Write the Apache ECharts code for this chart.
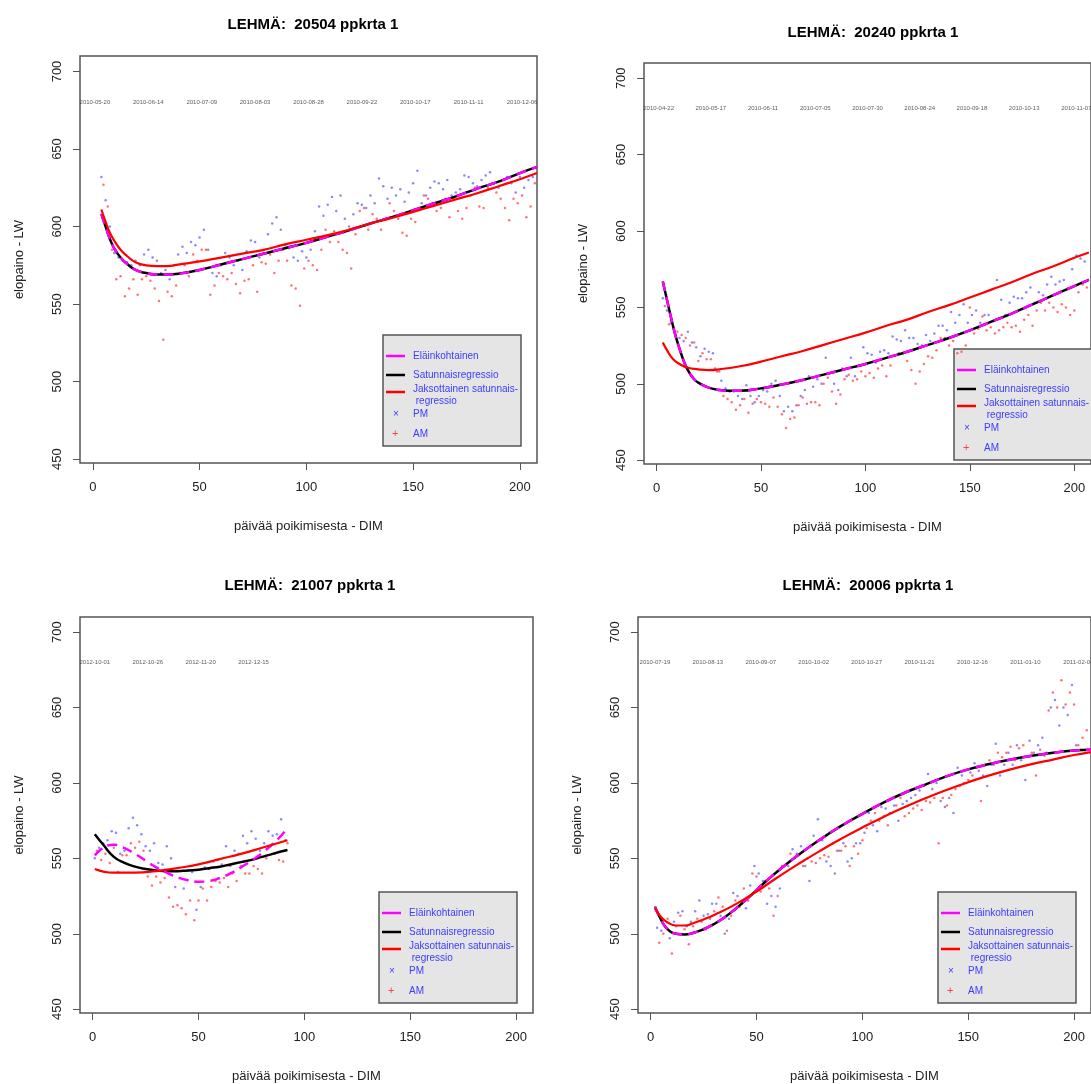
<!DOCTYPE html>
<html>
<head>
<meta charset="utf-8">
<script src="https://cdn.jsdelivr.net/npm/echarts@6/dist/echarts.min.js"></script>
<style>
  html, body { margin: 0; padding: 0; background: #fff; }
  #chart { width: 1091px; height: 1084px; }
</style>
</head>
<body>
<div id="chart"></div>
<script>
// --- data ---
const titles = ['LEHMÄ:  20504 ppkrta 1', 'LEHMÄ:  20240 ppkrta 1', 'LEHMÄ:  21007 ppkrta 1', 'LEHMÄ:  20006 ppkrta 1']
const xTicks = [0, 50, 100, 150, 200]
const yTicks = [450, 500, 550, 600, 650, 700]

const dates1 = ['2010-05-20', '2010-06-14', '2010-07-09', '2010-08-03', '2010-08-28', '2010-09-22', '2010-10-17', '2010-11-11', '2010-12-06']
const dates2 = ['2010-04-22', '2010-05-17', '2010-06-11', '2010-07-05', '2010-07-30', '2010-08-24', '2010-09-18', '2010-10-13', '2010-11-07']
const dates3 = ['2012-10-01', '2012-10-26', '2012-11-20', '2012-12-15']
const dates4 = ['2010-07-19', '2010-08-13', '2010-09-07', '2010-10-02', '2010-10-27', '2010-11-21', '2010-12-16', '2011-01-10', '2011-02-04']

// panel 1
const black1 = [[4,608],[6,600],[8,592],[10,586],[13,580],[16,576],[20,572],[25,570],[30,569],[35,569],[40,569.5],[50,572],[60,575.5],[70,579],[80,582.5],[90,586],[100,589.5],[110,593.5],[120,597.5],[130,602],[140,606],[150,610.5],[160,615],[170,619.5],[180,624.5],[190,629],[200,634.5],[208,638.5]]
const magenta1 = black1
const red1 = [[4,611],[6,603],[8,596],[10,591],[13,585],[16,581],[20,577],[25,575],[30,574.5],[35,574.5],[40,575.5],[50,577.5],[60,580],[70,582.5],[80,585],[90,588.5],[100,591.5],[110,594.5],[120,598],[130,602],[140,605.5],[150,609.5],[160,613.5],[170,617.5],[180,621.5],[190,626],[200,630.5],[208,634.5]]
const pm1Start = 4
const pm1 = [632,617,600,583,580,578,577,575,578,575,582,585,580,578,570,572,566,575,582,587,583,590,588,593,598,585,570,568,575,583,580,575,578,572,584,591,590,580,583,595,602,606,598,588,586,580,578,584,580,585,597,613,607,614,619,610,620,605,600,608,615,614,612,620,615,631,626,618,625,620,624,616,622,628,636,615,620,625,629,628,624,630,620,622,624,633,632,628,626,630,633,635,628,625,630,632,628,622,632,625,630,632]
const am1Start = 5
const am1 = [627,613,585,566,568,555,560,566,556,566,568,565,560,552,527,558,555,562,570,575,568,582,578,585,585,556,562,570,568,566,570,563,557,565,566,575,558,577,576,582,570,578,585,578,562,560,549,573,578,575,572,585,598,590,597,590,585,583,573,595,610,612,598,608,605,598,605,615,610,605,596,594,605,603,612,620,618,615,610,612,618,606,618,610,605,612,620,625,613,612,625,628,622,618,612,604,618,615,620,606,613,628]

// panel 2
const black2 = [[3,567],[5,555],[7,543],[9,532],[11,523],[13,515],[15,509],[18,503],[21,500],[25,497.5],[30,496],[35,495.5],[40,495.5],[50,497],[60,499.5],[70,502.5],[80,506],[90,509.5],[100,513],[110,517],[120,521],[130,525.5],[140,530],[150,535],[160,540.5],[170,546],[180,552],[190,558],[200,564],[207,568]]
const magenta2 = black2
const red2 = [[3,527],[5,522],[8,516],[11,513],[15,510.5],[20,509.5],[25,509],[30,509.5],[40,511.5],[50,514.5],[60,518],[70,521.5],[80,525.5],[90,529.5],[100,533.5],[110,538],[120,542],[130,547],[140,551.5],[150,556.5],[160,561.5],[170,566.5],[180,572],[190,577],[200,582.5],[207,586]]
const pm2Start = 3
const pm2 = [556,548,540,532,530,528,534,527,524,518,523,521,520,508,502,497,495,495,492,490,499,492,488,492,496,495,500,502,492,482,485,482,486,492,496,505,498,503,500,517,507,500,496,510,505,517,505,512,524,520,519,514,521,522,520,531,529,528,535,530,530,526,525,532,528,533,538,538,535,547,540,545,552,540,545,548,540,545,545,562,568,555,545,553,557,556,556,560,563,553,560,558,565,570,565,567,568,562,575,584,582,580]
const am2Start = 4
const am2 = [551,539,537,534,532,530,525,527,515,520,516,516,510,508,492,490,488,483,486,490,481,487,490,488,487,485,491,485,480,471,477,478,486,491,487,488,488,486,500,504,495,487,493,503,506,502,503,508,505,507,504,510,512,505,512,518,520,520,515,509,500,508,513,518,517,522,530,530,525,528,520,521,525,550,533,536,544,535,537,533,535,537,540,537,538,534,542,545,538,548,553,548,553,550,547,552,550,545,548,560,565,563]

// panel 3
const black3 = [[1,566],[5,559],[10,551],[15,547],[20,544.5],[25,543],[30,542],[35,541.5],[40,541.5],[45,542],[50,542.5],[55,543.5],[60,544.5],[65,546],[70,547.5],[75,549],[80,551],[85,553],[92,555.5]]
const magenta3 = [[1,552],[4,556],[7,558.5],[10,559],[14,557.5],[20,553],[25,548.5],[30,544],[35,540.5],[40,537.5],[45,535.5],[50,534.5],[55,535],[60,537],[65,540],[70,544],[75,548.5],[80,553.5],[85,559.5],[89,565],[92,570]]
const red3 = [[1,543],[10,540.5],[20,540.5],[30,541.5],[35,542.5],[40,543.5],[50,546],[60,549.5],[70,553],[80,557],[92,562]]
const pm3Start = 1
const pm3 = [550,557,560,562,568,567,553,555,570,577,572,566,558,555,560,547,546,558,550,531,537,530,542,541,516,531,544,543,548,549,546,558,545,555,553,565,560,568,563,555,560,568,565,566,576,562]
const am3Start = 2
const am3 = [555,549,553,547,557,541,552,552,560,557,561,555,538,532,538,534,537,524,518,519,517,513,522,509,522,530,522,531,535,534,537,531,540,535,545,540,540,545,543,540,550,558,553,549,548,560]

// panel 4
const black4 = [[2,518],[5,509],[8,503],[12,500],[16,499.5],[20,500.5],[25,503],[30,506.5],[35,511],[40,516.5],[45,522.5],[50,529],[55,535.5],[60,541.5],[70,552.5],[80,562.5],[90,571.5],[100,579.5],[110,587],[120,593.5],[130,599],[140,604.5],[150,609],[160,612.5],[170,615.5],[180,618],[190,620],[200,621.5],[208,622]]
const magenta4 = black4
const red4 = [[2,517],[5,511],[8,507.5],[12,505.5],[16,505.5],[20,507],[25,509.5],[30,512.5],[40,519.5],[50,528],[60,537.5],[70,546.5],[80,555],[90,563],[100,570.5],[110,577.5],[120,584],[130,590],[140,595.5],[150,600.5],[160,605],[170,609],[180,612.5],[190,615.5],[200,618.5],[208,620.5]]
const pm4Start = 3
const pm4 = [504,502,505,497,508,514,515,505,508,515,522,512,513,520,520,512,500,510,527,525,520,517,532,545,540,535,520,525,518,530,545,545,556,553,558,545,535,565,576,562,548,545,540,555,560,548,550,560,560,567,580,572,568,584,583,580,585,575,586,588,590,592,595,598,606,596,600,588,584,590,580,610,605,600,607,613,608,605,598,612,626,605,612,620,612,625,615,602,628,620,625,630,620,650,655,638,650,645,665,625,622,620]
const am4Start = 4
const am4 = [494,500,510,487,505,512,503,493,505,510,508,503,510,515,524,518,502,512,522,518,530,522,540,538,528,535,530,512,525,545,546,553,550,552,545,550,548,547,550,552,551,560,555,555,558,545,558,553,562,570,575,580,575,578,572,580,585,590,578,580,583,585,582,588,587,590,560,590,585,592,596,598,600,602,605,610,588,612,615,612,620,617,620,624,615,623,625,612,620,605,622,618,648,660,650,668,652,660,652,625,630,635]

// --- layout ---
const panels = [
    { grid: { left: 80, top: 56, width: 457, height: 407 }, title: [308, 12], dates: dates1, dateStart: 1, black: black1, magenta: magenta1, red: red1, pm: [pm1Start, pm1], am: [am1Start, am1], legend: [383, 335] },
    { grid: { left: 644, top: 63, width: 460, height: 401 }, title: [868, 20], dates: dates2, dateStart: 1, black: black2, magenta: magenta2, red: red2, pm: [pm2Start, pm2], am: [am2Start, am2], legend: [954, 349] },
    { grid: { left: 80, top: 617, width: 453, height: 401 }, title: [305, 573], dates: dates3, dateStart: 1, black: black3, magenta: magenta3, red: red3, pm: [pm3Start, pm3], am: [am3Start, am3], legend: [379, 892] },
    { grid: { left: 638, top: 617, width: 460, height: 401 }, title: [863, 573], dates: dates4, dateStart: 2, black: black4, magenta: magenta4, red: red4, pm: [pm4Start, pm4], am: [am4Start, am4], legend: [938, 892] }
]

const FONT = 'Liberation Sans, Arial, sans-serif'

function toPairs(start, vals) {
    return vals.map((v, i) => [start + 2 * i, v])
}

function buildLegend(x, y) {
    const blue = '#3c3cff'
    const items = [
        { type: 'rect', shape: { x: x, y: y, width: 138, height: 111 }, style: { fill: '#e5e5e5', stroke: '#555', lineWidth: 1.5 } }
    ]
    const lines = [['#ff00ff', 21], ['#000', 40], ['#ff0000', 57]]
    lines.forEach(([c, dy]) => {
        items.push({ type: 'line', shape: { x1: x + 3, y1: y + dy, x2: x + 22, y2: y + dy }, style: { stroke: c, lineWidth: 2.5 } })
    })
    const texts = [['Eläinkohtainen', 21], ['Satunnaisregressio', 40], ['Jaksottainen satunnais-', 54], [' regressio', 66], ['PM', 79], ['AM', 99]]
    texts.forEach(([t, dy]) => {
        items.push({ type: 'text', x: x + 30, y: y + dy, style: { text: t, fill: blue, font: '10px ' + FONT, textVerticalAlign: 'middle' } })
    })
    items.push({ type: 'text', x: x + 10, y: y + 79, style: { text: '×', fill: blue, font: '10px ' + FONT, textVerticalAlign: 'middle' } })
    items.push({ type: 'text', x: x + 9, y: y + 99, style: { text: '+', fill: '#ff4040', font: '11px ' + FONT, textVerticalAlign: 'middle' } })
    return items
}

const option = {
    animation: false,
    backgroundColor: '#fff',
    title: [],
    grid: [],
    xAxis: [],
    yAxis: [],
    series: [],
    graphic: []
}

panels.forEach((p, i) => {
    option.title.push({
        text: titles[i], left: p.title[0], top: p.title[1], textAlign: 'center',
        textStyle: { fontFamily: FONT, fontSize: 15, fontWeight: 'bold', color: '#000' }
    })
    option.grid.push(Object.assign({ show: true, borderColor: '#555', borderWidth: 1.5, backgroundColor: 'transparent' }, p.grid))
    option.xAxis.push({
        type: 'value', gridIndex: i, min: -6, max: 208,
        name: 'päivää poikimisesta - DIM', nameLocation: 'middle', nameGap: 57,
        nameTextStyle: { fontFamily: FONT, fontSize: 13, color: '#222' },
        axisLine: { show: false },
        axisTick: { show: true, inside: false, length: 7, customValues: xTicks, lineStyle: { color: '#555' } },
        axisLabel: { customValues: xTicks, fontFamily: FONT, fontSize: 13, color: '#222', margin: 18 },
        splitLine: { show: false }
    })
    option.yAxis.push({
        type: 'value', gridIndex: i, min: 447.5, max: 710, position: 'left',
        name: 'elopaino - LW', nameLocation: 'middle', nameGap: 54,
        nameTextStyle: { fontFamily: FONT, fontSize: 13, color: '#222' },
        axisLine: { show: false, onZero: false },
        axisTick: { show: true, inside: false, length: 7, customValues: yTicks, lineStyle: { color: '#555' } },
        axisLabel: { customValues: yTicks, rotate: 90, fontFamily: FONT, fontSize: 13, color: '#222', margin: 16 },
        splitLine: { show: false }
    })
    option.series.push({
        type: 'scatter', xAxisIndex: i, yAxisIndex: i, symbol: 'circle', symbolSize: 2.5,
        itemStyle: { color: '#6a6aff' }, data: toPairs(p.pm[0], p.pm[1]), z: 2
    })
    option.series.push({
        type: 'scatter', xAxisIndex: i, yAxisIndex: i, symbol: 'circle', symbolSize: 2.5,
        itemStyle: { color: '#ff5050' }, data: toPairs(p.am[0], p.am[1]), z: 2
    })
    option.series.push({
        type: 'line', xAxisIndex: i, yAxisIndex: i, smooth: true, showSymbol: false,
        lineStyle: { color: '#000', width: 2.5 }, data: p.black, z: 3
    })
    option.series.push({
        type: 'line', xAxisIndex: i, yAxisIndex: i, smooth: true, showSymbol: false,
        lineStyle: { color: '#ff00ff', width: 2.5, type: [10, 6] }, data: p.magenta, z: 4
    })
    option.series.push({
        type: 'line', xAxisIndex: i, yAxisIndex: i, smooth: true, showSymbol: false,
        lineStyle: { color: '#ff0000', width: 2.2 }, data: p.red, z: 5
    })
    option.series.push({
        type: 'scatter', xAxisIndex: i, yAxisIndex: i, symbolSize: 0, silent: true,
        data: p.dates.map((d, k) => [p.dateStart + 25 * k, 680, d]),
        label: { show: true, position: 'inside', formatter: (pr) => pr.data[2], fontFamily: FONT, fontSize: 6, color: '#333' }
    })
    option.graphic.push(...buildLegend(p.legend[0], p.legend[1]))
})

const chart = echarts.init(document.getElementById('chart'))
chart.setOption(option)
</script>
</body>
</html>
